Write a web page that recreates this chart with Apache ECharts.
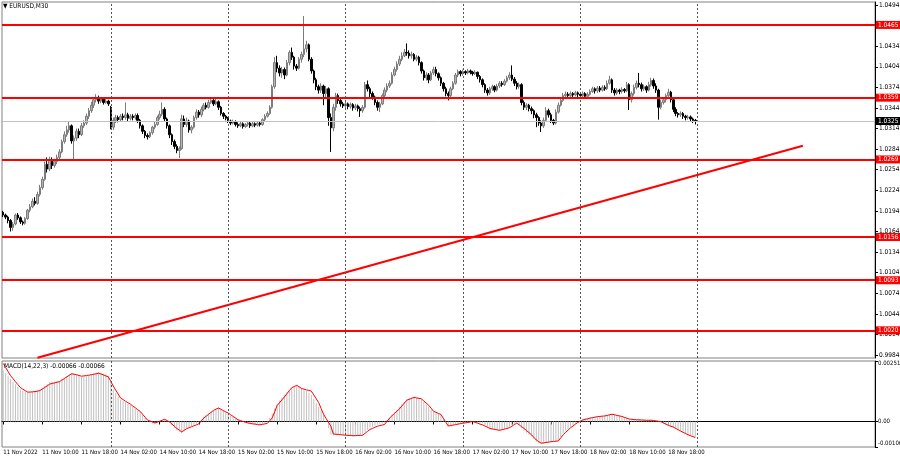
<!DOCTYPE html>
<html><head><meta charset="utf-8">
<script src="https://cdn.jsdelivr.net/npm/echarts@6/dist/echarts.min.js"></script>
<style>html,body{margin:0;padding:0;background:#fff}#chart{width:900px;height:460px}</style>
</head><body><div id="chart"></div>
<script>
const symbolTitle = 'EURUSD,M30';
const macdTitle = 'MACD(14,22,3)';
const year = '2022';
const sessions = [['11 Nov', 4, 48], ['14 Nov', 0, 48], ['15 Nov', 0, 48], ['16 Nov', 0, 48], ['17 Nov', 0, 48], ['18 Nov', 0, 48], ['21 Nov', 0, 48], ['22 Nov', 0, 25]];

const open = [
1.0192,1.0188,1.0185,1.0180,1.0170,1.0175,1.0188,1.0184,1.0178,1.0176,1.0183,1.0195,
1.0200,1.0208,1.0205,1.0218,1.0228,1.0240,1.0262,1.0255,1.0268,1.0260,1.0266,1.0272,
1.0280,1.0295,1.0305,1.0312,1.0318,1.0296,1.0300,1.0310,1.0305,1.0318,1.0322,1.0332,
1.0340,1.0348,1.0356,1.0358,1.0354,1.0357,1.0352,1.0354,1.0345,1.0316,1.0326,1.0330,
1.0327,1.0332,1.0330,1.0334,1.0329,1.0332,1.0330,1.0333,1.0326,1.0318,1.0310,1.0304,
1.0302,1.0308,1.0316,1.0320,1.0330,1.0335,1.0342,1.0328,1.0318,1.0305,1.0295,1.0288,
1.0282,1.0285,1.0328,1.0320,1.0325,1.0312,1.0316,1.0330,1.0338,1.0334,1.0342,1.0348,
1.0345,1.0352,1.0355,1.0350,1.0353,1.0345,1.0336,1.0332,1.0329,1.0325,1.0322,1.0324,
1.0320,1.0318,1.0321,1.0317,1.0320,1.0322,1.0318,1.0321,1.0319,1.0322,1.0320,1.0327,
1.0332,1.0336,1.0345,1.0375,1.0410,1.0402,1.0395,1.0400,1.0392,1.0410,1.0425,1.0418,
1.0405,1.0402,1.0415,1.0422,1.0430,1.0436,1.0415,1.0398,1.0385,1.0375,1.0370,1.0376,
1.0365,1.0372,1.0330,1.0315,1.0345,1.0362,1.0355,1.0350,1.0347,1.0350,1.0346,1.0349,
1.0344,1.0347,1.0343,1.0340,1.0345,1.0378,1.0372,1.0365,1.0360,1.0352,1.0345,1.0350,
1.0362,1.0370,1.0376,1.0380,1.0392,1.0400,1.0408,1.0415,1.0420,1.0425,1.0424,1.0420,
1.0422,1.0415,1.0418,1.0410,1.0398,1.0388,1.0392,1.0385,1.0395,1.0400,1.0394,1.0388,
1.0380,1.0372,1.0365,1.0362,1.0372,1.0380,1.0392,1.0397,1.0394,1.0397,1.0395,1.0398,
1.0396,1.0394,1.0396,1.0390,1.0385,1.0378,1.0370,1.0366,1.0372,1.0375,1.0370,1.0376,
1.0380,1.0378,1.0383,1.0388,1.0392,1.0386,1.0380,1.0375,1.0378,1.0352,1.0345,1.0348,
1.0343,1.0340,1.0334,1.0330,1.0322,1.0318,1.0326,1.0340,1.0334,1.0326,1.0322,1.0338,
1.0348,1.0355,1.0362,1.0364,1.0362,1.0365,1.0363,1.0366,1.0364,1.0362,1.0365,1.0361,
1.0364,1.0368,1.0372,1.0369,1.0373,1.0370,1.0374,1.0372,1.0380,1.0385,1.0370,1.0366,
1.0370,1.0368,1.0371,1.0369,1.0378,1.0356,1.0365,1.0374,1.0380,1.0378,1.0372,1.0375,
1.0370,1.0378,1.0384,1.0376,1.0370,1.0345,1.0352,1.0356,1.0362,1.0367,1.0356,1.0342,
1.0336,1.0334,1.0336,1.0332,1.0330,1.0331,1.0328,1.0326];

const high = [
1.0194,1.0190,1.0187,1.0182,1.0178,1.0190,1.0191,1.0186,1.0180,1.0185,1.0197,1.0204,
1.0212,1.0214,1.0222,1.0232,1.0244,1.0266,1.0272,1.0273,1.0272,1.0270,1.0276,1.0284,
1.0298,1.0310,1.0318,1.0324,1.0320,1.0304,1.0314,1.0314,1.0322,1.0326,1.0336,1.0344,
1.0353,1.0360,1.0364,1.0362,1.0360,1.0359,1.0357,1.0356,1.0347,1.0330,1.0334,1.0333,
1.0335,1.0336,1.0352,1.0337,1.0335,1.0335,1.0336,1.0336,1.0328,1.0320,1.0312,1.0307,
1.0310,1.0318,1.0324,1.0333,1.0340,1.0352,1.0345,1.0330,1.0320,1.0307,1.0298,1.0291,
1.0288,1.0334,1.0333,1.0330,1.0327,1.0319,1.0333,1.0342,1.0341,1.0346,1.0351,1.0352,
1.0356,1.0359,1.0357,1.0358,1.0355,1.0347,1.0338,1.0334,1.0331,1.0327,1.0327,1.0326,
1.0323,1.0324,1.0323,1.0322,1.0325,1.0324,1.0324,1.0323,1.0325,1.0324,1.0329,1.0335,
1.0339,1.0348,1.0378,1.0418,1.0420,1.0406,1.0404,1.0403,1.0414,1.0428,1.0432,1.0420,
1.0408,1.0418,1.0426,1.0478,1.0442,1.0438,1.0418,1.0400,1.0388,1.0378,1.0380,1.0378,
1.0376,1.0374,1.0336,1.0350,1.0366,1.0365,1.0358,1.0353,1.0353,1.0352,1.0352,1.0351,
1.0350,1.0349,1.0346,1.0348,1.0382,1.0384,1.0375,1.0368,1.0362,1.0355,1.0353,1.0365,
1.0374,1.0380,1.0384,1.0396,1.0404,1.0412,1.0420,1.0425,1.0430,1.0438,1.0428,1.0426,
1.0424,1.0421,1.0420,1.0412,1.0400,1.0396,1.0395,1.0398,1.0404,1.0404,1.0396,1.0390,
1.0382,1.0375,1.0368,1.0375,1.0383,1.0395,1.0400,1.0399,1.0400,1.0399,1.0401,1.0400,
1.0398,1.0399,1.0397,1.0392,1.0387,1.0380,1.0373,1.0375,1.0378,1.0377,1.0379,1.0383,
1.0383,1.0386,1.0391,1.0396,1.0406,1.0389,1.0383,1.0381,1.0380,1.0355,1.0351,1.0350,
1.0346,1.0342,1.0337,1.0332,1.0326,1.0330,1.0345,1.0343,1.0337,1.0328,1.0342,1.0352,
1.0358,1.0366,1.0368,1.0367,1.0368,1.0367,1.0369,1.0368,1.0367,1.0368,1.0367,1.0367,
1.0371,1.0375,1.0374,1.0376,1.0376,1.0377,1.0377,1.0384,1.0391,1.0387,1.0373,1.0373,
1.0372,1.0374,1.0373,1.0382,1.0380,1.0368,1.0378,1.0384,1.0395,1.0381,1.0378,1.0377,
1.0382,1.0388,1.0387,1.0380,1.0372,1.0356,1.0360,1.0365,1.0372,1.0369,1.0358,1.0345,
1.0338,1.0339,1.0338,1.0334,1.0334,1.0333,1.0330,1.0328];

const low = [
1.0185,1.0182,1.0176,1.0164,1.0165,1.0173,1.0181,1.0175,1.0173,1.0174,1.0181,1.0192,
1.0198,1.0202,1.0203,1.0215,1.0225,1.0238,1.0250,1.0252,1.0255,1.0257,1.0262,1.0268,
1.0278,1.0292,1.0302,1.0308,1.0292,1.0268,1.0296,1.0300,1.0303,1.0315,1.0319,1.0328,
1.0337,1.0344,1.0352,1.0350,1.0351,1.0349,1.0350,1.0347,1.0313,1.0312,1.0322,1.0323,
1.0324,1.0326,1.0327,1.0325,1.0326,1.0326,1.0327,1.0322,1.0314,1.0306,1.0300,1.0298,
1.0300,1.0305,1.0313,1.0318,1.0327,1.0332,1.0324,1.0314,1.0300,1.0290,1.0284,1.0278,
1.0271,1.0283,1.0316,1.0316,1.0308,1.0307,1.0314,1.0327,1.0330,1.0331,1.0339,1.0342,
1.0343,1.0350,1.0347,1.0348,1.0341,1.0333,1.0328,1.0326,1.0322,1.0319,1.0320,1.0317,
1.0315,1.0316,1.0314,1.0315,1.0317,1.0315,1.0316,1.0316,1.0317,1.0317,1.0318,1.0325,
1.0330,1.0334,1.0343,1.0372,1.0396,1.0390,1.0388,1.0386,1.0390,1.0406,1.0414,1.0400,
1.0398,1.0400,1.0410,1.0418,1.0425,1.0412,1.0394,1.0380,1.0370,1.0365,1.0366,1.0348,
1.0360,1.0318,1.0280,1.0310,1.0340,1.0350,1.0346,1.0344,1.0343,1.0342,1.0343,1.0340,
1.0341,1.0339,1.0331,1.0337,1.0343,1.0368,1.0360,1.0356,1.0348,1.0340,1.0338,1.0348,
1.0360,1.0367,1.0373,1.0378,1.0390,1.0397,1.0405,1.0412,1.0418,1.0420,1.0416,1.0416,
1.0412,1.0412,1.0406,1.0394,1.0384,1.0384,1.0380,1.0383,1.0392,1.0390,1.0384,1.0376,
1.0368,1.0361,1.0355,1.0360,1.0370,1.0378,1.0389,1.0390,1.0391,1.0392,1.0393,1.0393,
1.0391,1.0392,1.0386,1.0381,1.0374,1.0366,1.0362,1.0363,1.0369,1.0367,1.0368,1.0373,
1.0375,1.0376,1.0381,1.0385,1.0383,1.0376,1.0371,1.0372,1.0348,1.0341,1.0341,1.0339,
1.0335,1.0329,1.0316,1.0318,1.0309,1.0315,1.0324,1.0330,1.0322,1.0319,1.0320,1.0336,
1.0346,1.0353,1.0359,1.0359,1.0360,1.0360,1.0361,1.0360,1.0358,1.0359,1.0358,1.0359,
1.0362,1.0366,1.0365,1.0366,1.0367,1.0368,1.0369,1.0370,1.0378,1.0366,1.0362,1.0363,
1.0364,1.0365,1.0366,1.0367,1.0341,1.0352,1.0362,1.0371,1.0374,1.0368,1.0369,1.0366,
1.0368,1.0375,1.0372,1.0366,1.0327,1.0342,1.0349,1.0352,1.0359,1.0352,1.0338,1.0332,
1.0330,1.0331,1.0328,1.0326,1.0327,1.0324,1.0322,1.0320];

const close = [
1.0188,1.0185,1.0180,1.0170,1.0175,1.0188,1.0184,1.0178,1.0176,1.0183,1.0195,1.0200,
1.0208,1.0205,1.0218,1.0228,1.0240,1.0262,1.0255,1.0268,1.0260,1.0266,1.0272,1.0280,
1.0295,1.0305,1.0312,1.0318,1.0296,1.0300,1.0310,1.0305,1.0318,1.0322,1.0332,1.0340,
1.0348,1.0356,1.0358,1.0354,1.0357,1.0352,1.0354,1.0350,1.0316,1.0326,1.0330,1.0327,
1.0332,1.0330,1.0334,1.0329,1.0332,1.0330,1.0333,1.0326,1.0318,1.0310,1.0304,1.0302,
1.0308,1.0316,1.0320,1.0330,1.0335,1.0342,1.0328,1.0318,1.0305,1.0295,1.0288,1.0282,
1.0285,1.0328,1.0320,1.0325,1.0312,1.0316,1.0330,1.0338,1.0334,1.0342,1.0348,1.0345,
1.0352,1.0355,1.0350,1.0353,1.0345,1.0336,1.0332,1.0329,1.0325,1.0322,1.0324,1.0320,
1.0318,1.0321,1.0317,1.0320,1.0322,1.0318,1.0321,1.0319,1.0322,1.0320,1.0327,1.0332,
1.0336,1.0345,1.0375,1.0410,1.0402,1.0395,1.0400,1.0392,1.0410,1.0425,1.0418,1.0405,
1.0402,1.0415,1.0422,1.0430,1.0436,1.0415,1.0398,1.0385,1.0375,1.0370,1.0376,1.0365,
1.0372,1.0330,1.0315,1.0345,1.0362,1.0355,1.0350,1.0347,1.0350,1.0346,1.0349,1.0344,
1.0347,1.0343,1.0340,1.0345,1.0378,1.0372,1.0365,1.0360,1.0352,1.0345,1.0350,1.0362,
1.0370,1.0376,1.0380,1.0392,1.0400,1.0408,1.0415,1.0420,1.0425,1.0424,1.0420,1.0422,
1.0415,1.0418,1.0410,1.0398,1.0388,1.0392,1.0385,1.0395,1.0400,1.0394,1.0388,1.0380,
1.0372,1.0365,1.0362,1.0372,1.0380,1.0392,1.0397,1.0394,1.0397,1.0395,1.0398,1.0396,
1.0394,1.0396,1.0390,1.0385,1.0378,1.0370,1.0366,1.0372,1.0375,1.0370,1.0376,1.0380,
1.0378,1.0383,1.0388,1.0392,1.0386,1.0380,1.0375,1.0378,1.0352,1.0345,1.0348,1.0343,
1.0340,1.0334,1.0330,1.0322,1.0318,1.0326,1.0340,1.0334,1.0326,1.0322,1.0338,1.0348,
1.0355,1.0362,1.0364,1.0362,1.0365,1.0363,1.0366,1.0364,1.0362,1.0365,1.0361,1.0364,
1.0368,1.0372,1.0369,1.0373,1.0370,1.0374,1.0372,1.0380,1.0385,1.0370,1.0366,1.0370,
1.0368,1.0371,1.0369,1.0378,1.0356,1.0365,1.0374,1.0380,1.0378,1.0372,1.0375,1.0370,
1.0378,1.0384,1.0376,1.0370,1.0345,1.0352,1.0356,1.0362,1.0367,1.0356,1.0342,1.0336,
1.0334,1.0336,1.0332,1.0330,1.0331,1.0328,1.0326,1.0325];

const macdMain = [
0.00212,0.00200,0.00188,0.00176,0.00165,0.00155,0.00144,0.00133,0.00128,0.00124,0.00120,0.00121,
0.00123,0.00126,0.00130,0.00133,0.00140,0.00148,0.00156,0.00163,0.00165,0.00166,0.00167,0.00168,
0.00175,0.00182,0.00189,0.00195,0.00201,0.00198,0.00194,0.00189,0.00185,0.00187,0.00189,0.00192,
0.00194,0.00198,0.00202,0.00205,0.00203,0.00199,0.00195,0.00190,0.00165,0.00133,0.00118,0.00103,
0.00090,0.00084,0.00079,0.00073,0.00068,0.00060,0.00053,0.00046,0.00039,0.00027,0.00015,0.00003,
-0.00003,-0.00008,-0.00011,-0.00005,0.00001,0.00005,0.00009,0.00002,-0.00005,-0.00016,-0.00027,-0.00037,
-0.00043,-0.00048,-0.00038,-0.00029,-0.00024,-0.00019,-0.00014,-0.00009,-0.00004,0.00008,0.00020,0.00027,
0.00033,0.00040,0.00046,0.00051,0.00056,0.00050,0.00044,0.00038,0.00032,0.00025,0.00019,0.00012,
0.00006,0.00003,-0.00001,-0.00004,-0.00007,-0.00009,-0.00010,-0.00012,-0.00013,-0.00014,-0.00010,-0.00006,
-0.00002,0.00015,0.00032,0.00054,0.00075,0.00087,0.00099,0.00111,0.00121,0.00131,0.00140,0.00145,
0.00150,0.00145,0.00140,0.00133,0.00125,0.00118,0.00110,0.00093,0.00077,0.00060,0.00045,0.00030,
0.00002,-0.00027,-0.00055,-0.00058,-0.00055,-0.00053,-0.00054,-0.00055,-0.00057,-0.00059,-0.00060,-0.00062,
-0.00061,-0.00059,-0.00057,-0.00055,-0.00045,-0.00035,-0.00026,-0.00022,-0.00017,-0.00013,-0.00010,-0.00008,
-0.00005,0.00006,0.00017,0.00028,0.00038,0.00049,0.00060,0.00071,0.00081,0.00092,0.00095,0.00098,
0.00100,0.00097,0.00095,0.00092,0.00081,0.00070,0.00060,0.00050,0.00039,0.00036,0.00032,0.00029,
0.00013,-0.00003,-0.00019,-0.00017,-0.00015,-0.00013,-0.00011,-0.00009,-0.00007,-0.00006,-0.00004,-0.00002,
0,-0.00002,-0.00004,-0.00005,-0.00007,-0.00016,-0.00025,-0.00033,-0.00034,-0.00035,-0.00036,-0.00037,
-0.00034,-0.00031,-0.00027,-0.00024,-0.00017,-0.00010,-0.00004,-0.00016,-0.00028,-0.00040,-0.00047,-0.00055,
-0.00062,-0.00073,-0.00084,-0.00090,-0.00095,-0.00092,-0.00089,-0.00087,-0.00084,-0.00083,-0.00082,-0.00080,
-0.00064,-0.00048,-0.00039,-0.00030,-0.00022,-0.00015,-0.00008,0,0.00005,0.00010,0.00012,0.00013,
0.00015,0.00017,0.00018,0.00020,0.00022,0.00023,0.00025,0.00027,0.00030,0.00032,0.00029,0.00026,
0.00024,0.00021,0.00017,0.00014,0.00010,0.00009,0.00008,0.00007,0.00007,0.00006,0.00006,0.00005,
0.00005,0.00005,0.00003,0.00001,-0.00002,-0.00004,-0.00009,-0.00014,-0.00019,-0.00022,-0.00026,-0.00031,
-0.00035,-0.00040,-0.00046,-0.00052,-0.00058,-0.00061,-0.00064,-0.00066];

const macdSignal = [
0.00241,0.00224,0.00207,0.00190,0.00178,0.00165,0.00153,0.00141,0.00134,0.00128,0.00122,0.00122,
0.00123,0.00124,0.00126,0.00128,0.00135,0.00141,0.00148,0.00155,0.00158,0.00160,0.00163,0.00165,
0.00172,0.00178,0.00185,0.00192,0.00198,0.00196,0.00194,0.00191,0.00188,0.00189,0.00191,0.00192,
0.00194,0.00196,0.00198,0.00200,0.00197,0.00193,0.00189,0.00185,0.00166,0.00147,0.00130,0.00114,
0.00097,0.00091,0.00084,0.00078,0.00072,0.00064,0.00057,0.00049,0.00042,0.00030,0.00018,0.00006,
0.00002,-0.00002,-0.00006,-0.00003,0.00001,0.00005,0.00009,0.00004,-0.00002,-0.00011,-0.00020,-0.00029,
-0.00036,-0.00043,-0.00037,-0.00030,-0.00026,-0.00022,-0.00018,-0.00014,-0.00010,0.00002,0.00014,0.00022,
0.00030,0.00038,0.00046,0.00051,0.00056,0.00051,0.00045,0.00040,0.00035,0.00028,0.00021,0.00014,
0.00007,0.00004,0,-0.00003,-0.00006,-0.00008,-0.00010,-0.00011,-0.00013,-0.00014,-0.00012,-0.00010,
-0.00008,0.00003,0.00015,0.00040,0.00066,0.00078,0.00090,0.00102,0.00115,0.00128,0.00140,0.00145,
0.00150,0.00144,0.00137,0.00134,0.00131,0.00129,0.00126,0.00110,0.00094,0.00078,0.00054,0.00030,
0.00013,-0.00003,-0.00020,-0.00052,-0.00053,-0.00054,-0.00055,-0.00056,-0.00057,-0.00058,-0.00058,-0.00059,
-0.00059,-0.00058,-0.00058,-0.00057,-0.00049,-0.00041,-0.00033,-0.00029,-0.00024,-0.00020,-0.00017,-0.00015,
-0.00012,0.00001,0.00014,0.00024,0.00033,0.00043,0.00052,0.00064,0.00076,0.00088,0.00092,0.00096,
0.00100,0.00098,0.00096,0.00094,0.00085,0.00076,0.00067,0.00055,0.00042,0.00038,0.00033,0.00029,
0.00013,-0.00003,-0.00019,-0.00017,-0.00015,-0.00013,-0.00011,-0.00009,-0.00007,-0.00006,-0.00004,-0.00002,
0,-0.00004,-0.00007,-0.00011,-0.00014,-0.00019,-0.00024,-0.00029,-0.00031,-0.00033,-0.00035,-0.00037,
-0.00034,-0.00032,-0.00029,-0.00026,-0.00020,-0.00013,-0.00007,-0.00014,-0.00022,-0.00029,-0.00038,-0.00046,
-0.00055,-0.00066,-0.00077,-0.00084,-0.00090,-0.00089,-0.00087,-0.00086,-0.00084,-0.00083,-0.00082,-0.00081,
-0.00068,-0.00055,-0.00045,-0.00036,-0.00026,-0.00019,-0.00011,-0.00004,0.00001,0.00006,0.00009,0.00011,
0.00014,0.00016,0.00018,0.00020,0.00021,0.00022,0.00023,0.00025,0.00028,0.00030,0.00028,0.00025,
0.00023,0.00021,0.00017,0.00014,0.00010,0.00009,0.00008,0.00007,0.00007,0.00006,0.00006,0.00005,
0.00005,0.00005,0.00004,0.00002,0.00001,-0.00001,-0.00006,-0.00011,-0.00016,-0.00020,-0.00023,-0.00029,
-0.00034,-0.00040,-0.00045,-0.00050,-0.00055,-0.00059,-0.00063,-0.00066];

const levels = [1.0465, 1.0359, 1.0269, 1.0156, 1.0093, 1.0020];
const bidPrice = 1.0325;
const priceTicks = [0.9984, 1.0014, 1.0044, 1.0074, 1.0104, 1.0134, 1.0164, 1.0194, 1.0224, 1.0254, 1.0284, 1.0314, 1.0344, 1.0374, 1.0404, 1.0434, 1.0494];
const macdTicks = [0.00251, 0, -0.00106];
const trendTimes = ['11 Nov 09:00', '21 Nov 21:30'];
const trendPrices = [0.9980, 1.0289];
const daySeparators = ['14 Nov 00:00', '15 Nov 00:00', '16 Nov 00:00', '17 Nov 00:00', '18 Nov 00:00', '21 Nov 00:00'];

const categories = [];
sessions.forEach(([d, s, e]) => {
  for (let k = s; k < e; k++) {
    const h = Math.floor(k / 2), m = k % 2 ? '30' : '00';
    categories.push(d + ' ' + String(h).padStart(2, '0') + ':' + m);
  }
});
const lastBar = close.length - 1;
const FONT = "'Liberation Sans Narrow','DejaVu Sans Condensed','Liberation Sans',sans-serif";
const labelInterval = (idx) => idx % 16 === 0 && idx <= lastBar;

const sepLines = daySeparators.map(d => ({ xAxis: d, lineStyle: { color: '#555', type: [2, 2], width: 1 }, label: { show: false } }));
const boxLabel = (bg) => ({ show: true, position: 'end', distance: 1, formatter: p => Number(p.value).toFixed(4), color: '#fff', backgroundColor: bg, padding: [1, 2, 0, 2], fontSize: 6.5, fontFamily: FONT });
const levelLines = levels.map(v => ({ yAxis: v, lineStyle: { color: '#ff0000', width: 2, type: 'solid' }, label: boxLabel('#ff0000') }));
const bidLine = { yAxis: bidPrice, lineStyle: { color: '#c0c0c0', width: 1, type: 'solid' }, label: boxLabel('#000') };

const chart = echarts.init(document.getElementById('chart'), null, { renderer: 'canvas' });
chart.setOption({
  animation: false,
  backgroundColor: '#fff',
  title: [
    { text: '\u25BC ' + symbolTitle, left: 3, top: 3, padding: 0, textStyle: { fontSize: 6.5, fontWeight: 'normal', color: '#000', fontFamily: FONT } },
    { text: macdTitle + ' ' + macdMain[lastBar].toFixed(5) + ' ' + macdSignal[lastBar].toFixed(5), left: 4, top: 363, padding: 0, textStyle: { fontSize: 6.5, fontWeight: 'normal', color: '#000', fontFamily: FONT } }
  ],
  grid: [
    { left: 2, top: 2, width: 873, height: 356, show: true, borderColor: '#808080', borderWidth: 1, containLabel: false, outerBoundsMode: 'none' },
    { left: 2, top: 361, width: 873, height: 86, show: true, borderColor: '#808080', borderWidth: 1, containLabel: false, outerBoundsMode: 'none' }
  ],
  xAxis: [
    { gridIndex: 0, type: 'category', data: categories, boundaryGap: true, axisLine: { show: false }, axisTick: { show: false }, axisLabel: { show: false }, splitLine: { show: false } },
    { gridIndex: 1, type: 'category', data: categories, boundaryGap: true,
      axisLine: { show: true, lineStyle: { color: '#000' } },
      axisTick: { show: true, alignWithLabel: true, interval: labelInterval, length: 3, lineStyle: { color: '#000' } },
      axisLabel: { interval: labelInterval, showMinLabel: true, hideOverlap: false, formatter: (v, i) => i === 0 ? v.slice(0, 6) + ' ' + year : v, align: 'left', margin: 2, fontSize: 6, color: '#000', fontFamily: FONT },
      splitLine: { show: false } }
  ],
  yAxis: [
    { gridIndex: 0, type: 'value', position: 'right', min: 0.99797, max: 1.04984,
      axisLine: { show: true, lineStyle: { color: '#000' } },
      axisTick: { show: true, customValues: priceTicks, length: 3, lineStyle: { color: '#000' } },
      axisLabel: { customValues: priceTicks, formatter: v => v.toFixed(4), fontSize: 6.5, color: '#000', margin: 4, fontFamily: FONT },
      splitLine: { show: false } },
    { gridIndex: 1, type: 'value', position: 'right', min: -0.00106, max: 0.00251,
      axisLine: { show: true, lineStyle: { color: '#000' } },
      axisTick: { show: true, customValues: macdTicks, length: 3, lineStyle: { color: '#000' } },
      axisLabel: { customValues: macdTicks, fontSize: 6, color: '#000', margin: 3, fontFamily: FONT, overflow: 'none', width: 40,
        formatter: v => v === 0 ? '0.00' : (v > 0 ? '{t|' + v.toFixed(5) + '}' : '{b|' + v.toFixed(5) + '}'),
        rich: { t: { padding: [4, 0, 0, 0], fontSize: 6, fontFamily: FONT }, b: { padding: [0, 0, 7, 0], fontSize: 6, fontFamily: FONT } } },
      splitLine: { show: false } }
  ],
  series: [
    { type: 'candlestick', xAxisIndex: 0, yAxisIndex: 0,
      data: open.map((o, i) => [o, close[i], low[i], high[i]]),
      barWidth: 2,
      itemStyle: { color: '#b4b4b4', color0: '#000', borderColor: '#7c7c7c', borderColor0: '#000', borderWidth: 1 },
      markLine: { silent: true, precision: 4, symbol: ['none', 'none'], animation: false, data: [...sepLines, bidLine, ...levelLines] } },
    { type: 'line', xAxisIndex: 0, yAxisIndex: 0, data: trendTimes.map((t, i) => [t, trendPrices[i]]),
      symbol: 'none', silent: true, lineStyle: { color: '#ff0000', width: 2 } },
    { type: 'bar', xAxisIndex: 1, yAxisIndex: 1, data: macdMain, barWidth: 1,
      itemStyle: { color: '#c0c0c0' },
      markLine: { silent: true, symbol: ['none', 'none'], animation: false, data: sepLines } },
    { type: 'line', xAxisIndex: 1, yAxisIndex: 1, data: macdSignal, symbol: 'none', silent: true,
      lineStyle: { color: '#ff0000', width: 1 } }
  ]
});
</script></body></html>
